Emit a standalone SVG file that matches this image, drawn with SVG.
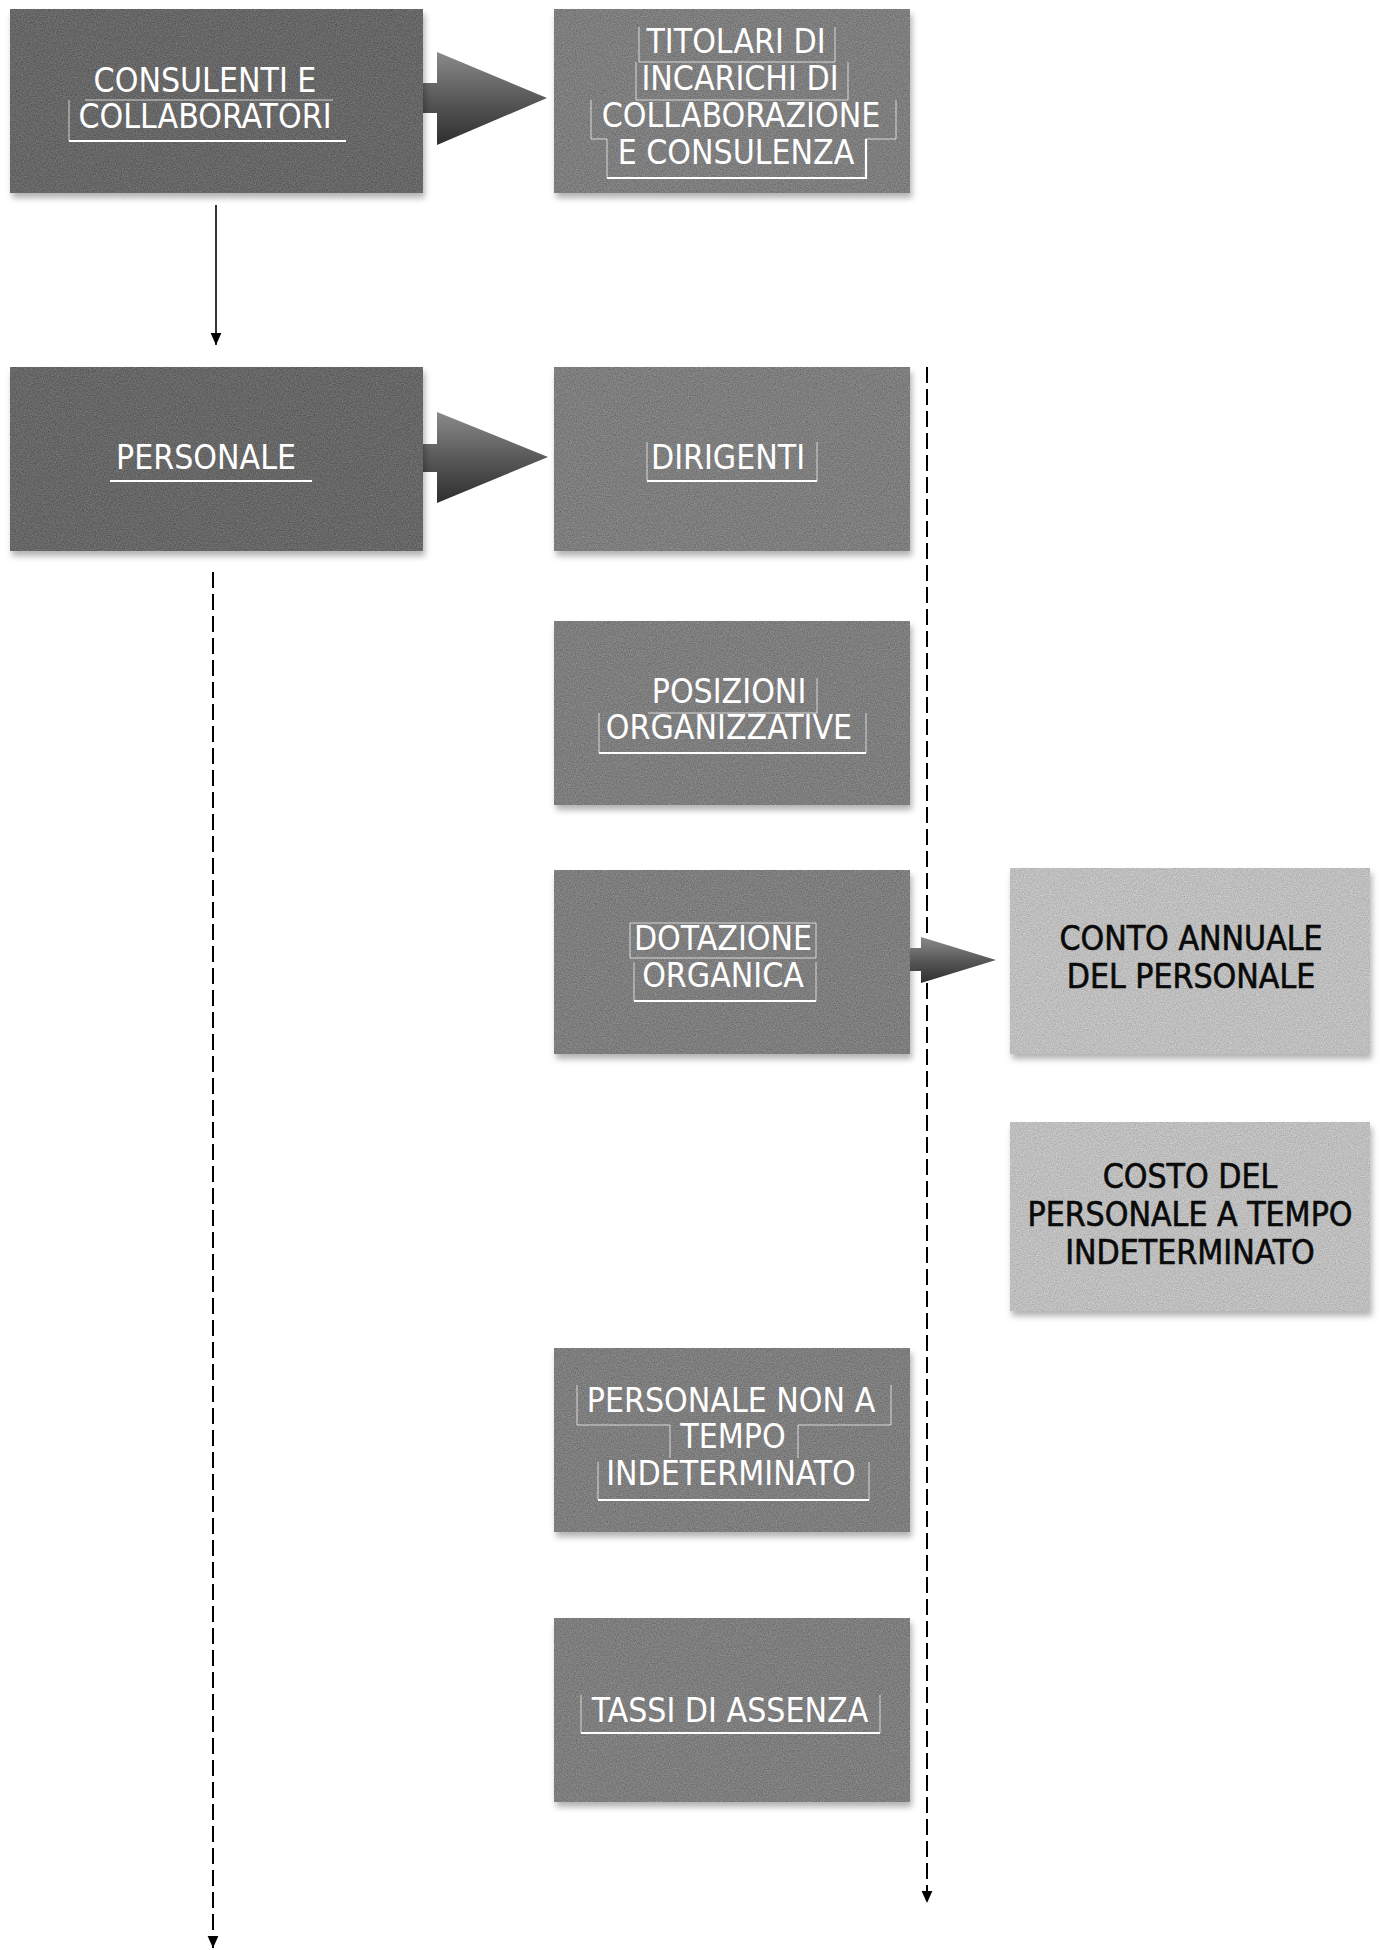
<svg xmlns="http://www.w3.org/2000/svg" width="1382" height="1950" viewBox="0 0 1382 1950">
<style>
.dark{fill:#676767}
.mid{fill:#7e7e7e}
.light{fill:#bebebe}
.sh{fill:#000;opacity:.3}
.wt{font-family:"DejaVu Sans Condensed","DejaVu Sans",sans-serif;font-size:33.5px;fill:#fff;text-anchor:middle}
.bt{font-family:"DejaVu Sans Condensed","DejaVu Sans",sans-serif;font-size:33.5px;fill:#0a0a0a;stroke:#0a0a0a;stroke-width:.6;text-anchor:middle}
.br{fill:none;stroke:#fff;stroke-width:1;opacity:.7}
.ul{fill:none;stroke:#fff;stroke-width:2.2}
.solid{fill:none;stroke:#000;stroke-width:1.6}
.dash{fill:none;stroke:#000;stroke-width:2;stroke-dasharray:16 6}
.block{fill:url(#bg)}
</style>
<defs>
<filter id="grain" x="0" y="0" width="100%" height="100%" color-interpolation-filters="sRGB">
<feTurbulence type="fractalNoise" baseFrequency="0.85" numOctaves="2" seed="4" result="t"/>
<feColorMatrix in="t" type="matrix" values="0.33 0.33 0.33 0 0  0.33 0.33 0.33 0 0  0.33 0.33 0.33 0 0  0 0 0 0 1" result="g"/>
<feComposite in="g" in2="SourceGraphic" operator="arithmetic" k1="0" k2="0.4" k3="1" k4="-0.2" result="c"/>
<feComposite in="c" in2="SourceGraphic" operator="in"/>
</filter>
<filter id="blur" x="-10%" y="-10%" width="120%" height="130%">
<feGaussianBlur stdDeviation="3"/>
</filter>
<linearGradient id="bg" x1="0" y1="0" x2="0" y2="1">
<stop offset="0" stop-color="#8a8a8a"/>
<stop offset="0.55" stop-color="#555"/>
<stop offset="1" stop-color="#2e2e2e"/>
</linearGradient>
<marker id="ah" markerUnits="userSpaceOnUse" markerWidth="12" markerHeight="12" viewBox="0 0 10 10" refX="10" refY="5" orient="auto">
<path d="M0,0.5 L10,5 L0,9.5 Z" fill="#000"/>
</marker>
</defs>

<g id="connectors">
<path class="block" d="M423,83 H437 V52 L547,98 L437,145 V113 H423 Z"/>
<path class="block" d="M423,444 H437 V412 L548,457 L437,503 V472 H423 Z"/>
<line class="solid" x1="216" y1="205" x2="216" y2="345" marker-end="url(#ah)"/>
<line class="dash" x1="213" y1="572" x2="213" y2="1948" marker-end="url(#ah)"/>
<line class="dash" x1="927" y1="367" x2="927" y2="1903" marker-end="url(#ah)"/>
</g>

<g id="n-consulenti">
<rect class="sh" x="12" y="14" width="413" height="184" filter="url(#blur)"/>
<rect class="dark" x="10" y="9" width="413" height="184" filter="url(#grain)"/>
<path class="br" d="M85,100 H333"/>
<path class="br" d="M69,100 V141"/>
<path class="ul" d="M69,141 H346"/>
<text class="wt" x="205" y="92">CONSULENTI E</text>
<text class="wt" x="205" y="128">COLLABORATORI</text>
</g>

<g id="n-titolari">
<rect class="sh" x="556" y="14" width="356" height="184" filter="url(#blur)"/>
<rect class="mid" x="554" y="9" width="356" height="184" filter="url(#grain)"/>
<path class="br" d="M639,27 V62 H835 V27"/>
<path class="br" d="M636,62 V100 H848 V62"/>
<path class="br" d="M591,100 V139 H607 M866,139 H896 V100"/>
<path class="br" d="M607,139 V178"/>
<path class="ul" d="M607,178 H866 V139"/>
<text class="wt" x="736" y="53">TITOLARI DI</text>
<text class="wt" x="740" y="90">INCARICHI DI</text>
<text class="wt" x="741" y="127">COLLABORAZIONE</text>
<text class="wt" x="736" y="164">E CONSULENZA</text>
</g>

<g id="n-personale">
<rect class="sh" x="12" y="372" width="413" height="184" filter="url(#blur)"/>
<rect class="dark" x="10" y="367" width="413" height="184" filter="url(#grain)"/>
<path class="ul" d="M110,481 H312"/>
<text class="wt" x="206" y="469">PERSONALE</text>
</g>

<g id="n-dirigenti">
<rect class="sh" x="556" y="372" width="356" height="184" filter="url(#blur)"/>
<rect class="mid" x="554" y="367" width="356" height="184" filter="url(#grain)"/>
<path class="br" d="M647,442 V481 M817,442 V481"/>
<path class="ul" d="M647,481 H817"/>
<text class="wt" x="728" y="469">DIRIGENTI</text>
</g>

<g id="n-posizioni">
<rect class="sh" x="556" y="626" width="356" height="184" filter="url(#blur)"/>
<rect class="mid" x="554" y="621" width="356" height="184" filter="url(#grain)"/>
<path class="br" d="M817,678 V713 H648"/>
<path class="br" d="M599,713 V753 M866,713 V753"/>
<path class="ul" d="M599,753 H866"/>
<text class="wt" x="729" y="703">POSIZIONI</text>
<text class="wt" x="729" y="739">ORGANIZZATIVE</text>
</g>

<g id="n-dotazione">
<rect class="sh" x="556" y="875" width="356" height="184" filter="url(#blur)"/>
<rect class="mid" x="554" y="870" width="356" height="184" filter="url(#grain)"/>
<path class="br" d="M630,923 V958 H816 V923 H630"/>
<path class="br" d="M634,962 V1001 M816,962 V1001"/>
<path class="ul" d="M634,1001 H816"/>
<text class="wt" x="723" y="950">DOTAZIONE</text>
<text class="wt" x="723" y="987">ORGANICA</text>
</g>

<g id="n-conto">
<rect class="sh" x="1012" y="873" width="360" height="186" filter="url(#blur)"/>
<rect class="light" x="1010" y="868" width="360" height="186" filter="url(#grain)"/>
<text class="bt" x="1191" y="950">CONTO ANNUALE</text>
<text class="bt" x="1191" y="988">DEL PERSONALE</text>
</g>

<g id="n-costo">
<rect class="sh" x="1012" y="1127" width="360" height="189" filter="url(#blur)"/>
<rect class="light" x="1010" y="1122" width="360" height="189" filter="url(#grain)"/>
<text class="bt" x="1190" y="1188">COSTO DEL</text>
<text class="bt" x="1190" y="1226">PERSONALE A TEMPO</text>
<text class="bt" x="1190" y="1264">INDETERMINATO</text>
</g>

<g id="arrow-dotazione">
<path class="block" d="M910,948 H921 V937 L996,960 L921,983 V971 H910 Z"/>
</g>

<g id="n-nonindeterminato">
<rect class="sh" x="556" y="1353" width="356" height="184" filter="url(#blur)"/>
<rect class="mid" x="554" y="1348" width="356" height="184" filter="url(#grain)"/>
<path class="br" d="M577,1385 V1425 H670 M798,1425 H891 V1385"/>
<path class="br" d="M670,1425 V1458 M798,1425 V1458"/>
<path class="br" d="M598,1462 V1500 M869,1462 V1500"/>
<path class="ul" d="M598,1500 H869"/>
<text class="wt" x="731" y="1412">PERSONALE NON A</text>
<text class="wt" x="733" y="1448">TEMPO</text>
<text class="wt" x="731" y="1485">INDETERMINATO</text>
</g>

<g id="n-tassi">
<rect class="sh" x="556" y="1623" width="356" height="184" filter="url(#blur)"/>
<rect class="mid" x="554" y="1618" width="356" height="184" filter="url(#grain)"/>
<path class="br" d="M581,1695 V1733 M880,1695 V1733"/>
<path class="ul" d="M581,1733 H880"/>
<text class="wt" x="730" y="1722">TASSI DI ASSENZA</text>
</g>
</svg>
